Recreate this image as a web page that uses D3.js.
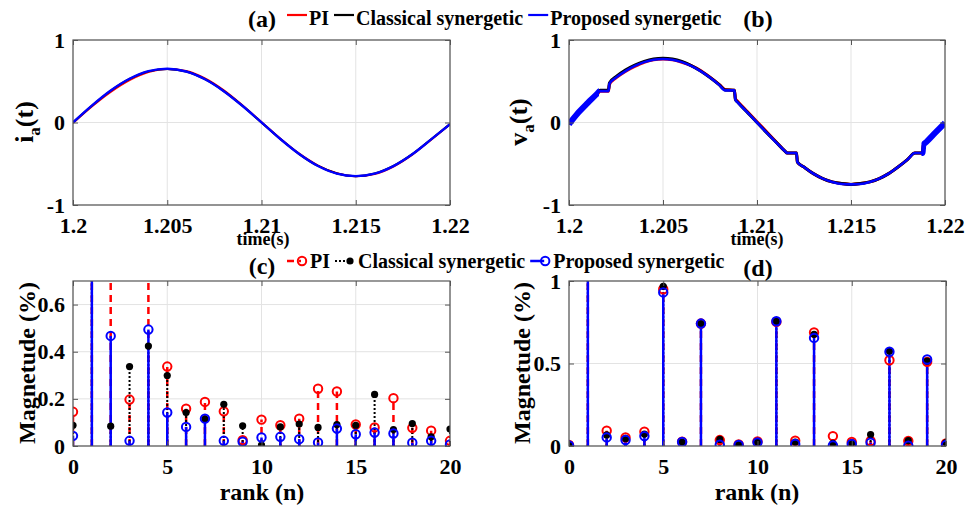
<!DOCTYPE html>
<html>
<head>
<meta charset="utf-8">
<script src="https://cdn.jsdelivr.net/npm/d3@7"></script>
<style>
  body { margin: 0; background: #fff; }
  text { font-family: "Liberation Serif", "Times New Roman", serif; font-weight: bold; fill: #000; }
</style>
</head>
<body>
<svg id="chart" width="978" height="509"></svg>
<script>
// ---------- data ----------
const seriesNames = ["PI", "Classical synergetic", "Proposed synergetic"];

const timeTicks = [1.2, 1.205, 1.21, 1.215, 1.22];
const signalTicks = [-1, 0, 1];

// (a) phase current i_a(t)
const iTime = [1.200, 1.201, 1.202, 1.203, 1.204, 1.205, 1.206, 1.207, 1.208, 1.209, 1.210,
               1.211, 1.212, 1.213, 1.214, 1.215, 1.216, 1.217, 1.218, 1.219, 1.220];
const iPI        = [-0.005, 0.195, 0.372, 0.515, 0.612, 0.650, 0.625, 0.535, 0.390, 0.206, 0.004,
                    -0.196, -0.378, -0.522, -0.616, -0.652, -0.626, -0.534, -0.390, -0.208, -0.020];
const iClassical = [0.000, 0.203, 0.385, 0.528, 0.620, 0.650, 0.619, 0.525, 0.381, 0.201, 0.000,
                    -0.201, -0.383, -0.527, -0.619, -0.650, -0.619, -0.527, -0.384, -0.203, -0.020];
const iProposed  = [0.000, 0.205, 0.388, 0.530, 0.622, 0.652, 0.618, 0.524, 0.380, 0.200, 0.002,
                    -0.200, -0.382, -0.528, -0.620, -0.650, -0.620, -0.528, -0.385, -0.205, -0.020];

// (b) phase voltage v_a(t), with the flat steps
const vTime = [1.2000, 1.2005, 1.2010, 1.2015, 1.20165, 1.2021, 1.20215, 1.2025, 1.2030, 1.2035,
               1.2040, 1.2045, 1.2050, 1.2055, 1.2060, 1.2065, 1.2070, 1.2075, 1.2080, 1.2083,
               1.2088, 1.20885, 1.2090, 1.2095, 1.2100, 1.2105, 1.2110, 1.2115, 1.2116, 1.2121,
               1.21215, 1.2125, 1.2130, 1.2135, 1.2140, 1.2145, 1.2150, 1.2155, 1.2160, 1.2165,
               1.2170, 1.2175, 1.2180, 1.2184, 1.2188, 1.21885, 1.2190, 1.2195, 1.2200];
const vPI        = [-0.02, 0.11, 0.23, 0.34, 0.38, 0.38, 0.46, 0.54, 0.62, 0.68,
                    0.73, 0.76, 0.77, 0.76, 0.73, 0.69, 0.63, 0.55, 0.46, 0.40,
                    0.39, 0.29, 0.25, 0.13, 0.01, -0.11, -0.23, -0.35, -0.37, -0.37,
                    -0.48, -0.54, -0.62, -0.68, -0.72, -0.74, -0.75, -0.74, -0.72, -0.68,
                    -0.62, -0.54, -0.45, -0.37, -0.37, -0.27, -0.24, -0.12, -0.01];
const vClassical = [-0.02, 0.12, 0.24, 0.35, 0.39, 0.39, 0.48, 0.555, 0.635, 0.695,
                    0.74, 0.77, 0.78, 0.77, 0.74, 0.69, 0.625, 0.545, 0.455, 0.395,
                    0.39, 0.28, 0.24, 0.12, 0.00, -0.12, -0.235, -0.35, -0.37, -0.37,
                    -0.48, -0.54, -0.62, -0.68, -0.72, -0.74, -0.75, -0.74, -0.72, -0.68,
                    -0.62, -0.54, -0.45, -0.37, -0.37, -0.27, -0.24, -0.12, -0.01];
const vProposed  = [-0.02, 0.12, 0.238, 0.35, 0.38, 0.38, 0.47, 0.545, 0.623, 0.686,
                    0.732, 0.761, 0.770, 0.761, 0.732, 0.686, 0.623, 0.545, 0.453, 0.390,
                    0.390, 0.280, 0.238, 0.120, 0.000, -0.120, -0.238, -0.350, -0.370, -0.370,
                    -0.480, -0.540, -0.620, -0.680, -0.720, -0.745, -0.750, -0.745, -0.720, -0.680,
                    -0.620, -0.540, -0.450, -0.370, -0.370, -0.270, -0.238, -0.120, -0.005];
// time spans where the proposed voltage trace shows a thick switching ripple
const vRippleSpans = [[1.2000, 1.2016], [1.2188, 1.2200]];

// (c) harmonic spectrum of the current, (d) of the voltage
const ranks = [0, 1, 2, 3, 4, 5, 6, 7, 8, 9, 10, 11, 12, 13, 14, 15, 16, 17, 18, 19, 20];
const curPI        = [0.145, 100, 0.90, 0.197, 1.10, 0.337, 0.158, 0.187, 0.147, 0.025, 0.112,
                      0.088, 0.116, 0.243, 0.231, 0.091, 0.079, 0.203, 0.077, 0.065, 0.022];
const curClassical = [0.088, 100, 0.084, 0.337, 0.424, 0.299, 0.142, 0.115, 0.177, 0.086, 0.004,
                      0.081, 0.093, 0.079, 0.091, 0.088, 0.219, 0.070, 0.095, 0.039, 0.072];
const curProposed  = [0.043, 100, 0.467, 0.022, 0.494, 0.142, 0.081, 0.116, 0.022, 0.018, 0.036,
                      0.039, 0.029, 0.015, 0.074, 0.050, 0.057, 0.053, 0.014, 0.022, 0.007];
const volPI        = [0.006, 100, 0.093, 0.052, 0.087, 0.950, 0.026, 0.742, 0.036, 0.010, 0.028,
                      0.752, 0.032, 0.688, 0.060, 0.024, 0.030, 0.520, 0.030, 0.510, 0.016];
const volClassical = [0.006, 100, 0.067, 0.046, 0.072, 0.968, 0.024, 0.742, 0.040, 0.010, 0.025,
                      0.755, 0.024, 0.677, 0.016, 0.020, 0.069, 0.575, 0.032, 0.514, 0.020];
const volProposed  = [0.004, 100, 0.052, 0.036, 0.060, 0.931, 0.024, 0.742, 0.008, 0.006, 0.022,
                      0.756, 0.012, 0.655, 0.004, 0.012, 0.020, 0.571, 0.002, 0.524, 0.006];
const rankTicks = [0, 5, 10, 15, 20];
const curMagTicks = [0, 0.2, 0.4, 0.6];
const volMagTicks = [0, 0.5, 1];

// ---------- styles ----------
const colors = ["#ff0000", "#000000", "#0000ff"];
const stemStyle = [
  { color: "#ff0000", dash: "7,5", width: 2.5, marker: "open" },
  { color: "#000000", dash: "2,2", width: 2, marker: "dot" },
  { color: "#0000ff", dash: null, width: 2.5, marker: "open" }
];

const svg = d3.select("#chart");

function makePanel(id, box, xDomain, yDomain, xTicks, yTicks) {
  const x = d3.scaleLinear().domain(xDomain).range([box.left, box.right]);
  const y = d3.scaleLinear().domain(yDomain).range([box.bottom, box.top]);
  const g = svg.append("g");

  svg.append("clipPath").attr("id", "clip-" + id)
    .append("rect")
    .attr("x", box.left).attr("y", box.top)
    .attr("width", box.right - box.left).attr("height", box.bottom - box.top);

  // grid
  g.selectAll(".gx").data(xTicks).join("line")
    .attr("x1", d => x(d)).attr("x2", d => x(d))
    .attr("y1", box.top).attr("y2", box.bottom)
    .attr("stroke", "#e3e3e3").attr("stroke-width", 1);
  g.selectAll(".gy").data(yTicks).join("line")
    .attr("y1", d => y(d)).attr("y2", d => y(d))
    .attr("x1", box.left).attr("x2", box.right)
    .attr("stroke", "#e3e3e3").attr("stroke-width", 1);

  const plot = svg.append("g").attr("clip-path", `url(#clip-${id})`);

  // axes on top of the data
  const axes = svg.append("g");
  axes.append("g")
    .attr("transform", `translate(0,${box.bottom})`)
    .call(d3.axisBottom(x).tickValues(xTicks).tickSizeInner(-5).tickSizeOuter(0).tickPadding(12).tickFormat(d => String(d)));
  axes.append("g")
    .attr("transform", `translate(${box.left},0)`)
    .call(d3.axisLeft(y).tickValues(yTicks).tickSizeInner(-5).tickSizeOuter(0).tickPadding(8).tickFormat(d => String(d)));
  axes.append("g")
    .attr("transform", `translate(0,${box.top})`)
    .call(d3.axisTop(x).tickValues(xTicks).tickSizeInner(-5).tickSizeOuter(0).tickFormat(""));
  axes.append("g")
    .attr("transform", `translate(${box.right},0)`)
    .call(d3.axisRight(y).tickValues(yTicks).tickSizeInner(-5).tickSizeOuter(0).tickFormat(""));
  axes.selectAll(".domain").remove();
  axes.selectAll(".tick line").attr("stroke", "#555");
  axes.selectAll(".tick text")
    .attr("font-family", '"Liberation Serif", "Times New Roman", serif')
    .attr("font-weight", "bold").attr("font-size", 22).attr("fill", "#000");
  axes.append("rect")
    .attr("x", box.left).attr("y", box.top)
    .attr("width", box.right - box.left).attr("height", box.bottom - box.top)
    .attr("fill", "none").attr("stroke", "#555").attr("stroke-width", 1.2);

  return { x, y, plot, box };
}

function rotatedLabel(cx, cy, parts) {
  const t = svg.append("text")
    .attr("transform", `translate(${cx},${cy}) rotate(-90)`)
    .attr("text-anchor", "middle");
  parts.forEach(p => {
    t.append("tspan").text(p.text)
      .attr("font-size", p.size)
      .attr("dy", p.dy || 0);
  });
  return t;
}

// ---------- (a) and (b): time waveforms ----------
const panelA = makePanel("a", { left: 73, right: 450, top: 40, bottom: 205 }, [1.2, 1.22], [-1, 1], timeTicks, signalTicks);
const panelB = makePanel("b", { left: 569, right: 945, top: 40, bottom: 205 }, [1.2, 1.22], [-1, 1], timeTicks, signalTicks);

function drawWave(panel, times, seriesList, widths) {
  const line = d3.line()
    .x((d, i) => panel.x(times[i]))
    .y(d => panel.y(d))
    .curve(d3.curveMonotoneX);
  seriesList.forEach((vals, k) => {
    panel.plot.append("path")
      .attr("d", line(vals))
      .attr("fill", "none")
      .attr("stroke", colors[k])
      .attr("stroke-width", widths[k])
      .attr("stroke-linejoin", "round");
  });
  return line;
}

drawWave(panelA, iTime, [iPI, iClassical, iProposed], [2, 2, 2.4]);
const vLine = drawWave(panelB, vTime, [vPI, vClassical, vProposed], [3, 3, 2.6]);

// thick ripple band of the proposed voltage near the zero crossings
vRippleSpans.forEach((span, k) => {
  const cid = "ripple-" + k;
  svg.append("clipPath").attr("id", cid).append("rect")
    .attr("x", panelB.x(span[0]) - 1).attr("y", panelB.box.top)
    .attr("width", panelB.x(span[1]) - panelB.x(span[0]) + 1)
    .attr("height", panelB.box.bottom - panelB.box.top);
  panelB.plot.append("path")
    .attr("clip-path", `url(#${cid})`)
    .attr("d", vLine(vProposed))
    .attr("fill", "none").attr("stroke", "#0000ff").attr("stroke-width", 6);
});

// axis titles for the waveforms
rotatedLabel(33, 122, [{ text: "i", size: 26 }, { text: "a", size: 17, dy: 7 }, { text: "(t)", size: 26, dy: -7 }]);
rotatedLabel(527, 122, [{ text: "v", size: 26 }, { text: "a", size: 17, dy: 7 }, { text: "(t)", size: 26, dy: -7 }]);
svg.append("text").attr("x", 263).attr("y", 245).attr("text-anchor", "middle").attr("font-size", 18).text("time(s)");
svg.append("text").attr("x", 757).attr("y", 245).attr("text-anchor", "middle").attr("font-size", 18).text("time(s)");

// ---------- (c) and (d): harmonic stems ----------
const panelC = makePanel("c", { left: 73, right: 450, top: 281, bottom: 446 }, [0, 20], [0, 0.7], rankTicks, curMagTicks);
const panelD = makePanel("d", { left: 569, right: 946, top: 281, bottom: 446 }, [0, 20], [0, 1], rankTicks, volMagTicks);

function drawMarker(sel, style, cx, cy) {
  if (style.marker === "open") {
    sel.append("circle").attr("cx", cx).attr("cy", cy).attr("r", 4.2)
      .attr("fill", "none").attr("stroke", style.color).attr("stroke-width", 2);
  } else {
    sel.append("circle").attr("cx", cx).attr("cy", cy).attr("r", 3.6)
      .attr("fill", style.color);
  }
}

function drawStems(panel, seriesList) {
  seriesList.forEach((vals, k) => {
    const s = stemStyle[k];
    panel.plot.append("g").selectAll("line").data(vals).join("line")
      .attr("x1", (d, i) => panel.x(ranks[i])).attr("x2", (d, i) => panel.x(ranks[i]))
      .attr("y1", panel.y(0)).attr("y2", d => panel.y(d))
      .attr("stroke", s.color).attr("stroke-width", s.width)
      .attr("stroke-dasharray", s.dash);
  });
  seriesList.forEach((vals, k) => {
    const g = panel.plot.append("g");
    vals.forEach((d, i) => drawMarker(g, stemStyle[k], panel.x(ranks[i]), panel.y(d)));
  });
}

drawStems(panelC, [curPI, curClassical, curProposed]);
drawStems(panelD, [volPI, volClassical, volProposed]);

rotatedLabel(35, 363, [{ text: "Magnetude (%)", size: 24 }]);
rotatedLabel(530, 363, [{ text: "Magnetude (%)", size: 24 }]);
svg.append("text").attr("x", 262).attr("y", 500).attr("text-anchor", "middle").attr("font-size", 24).text("rank (n)");
svg.append("text").attr("x", 757).attr("y", 500).attr("text-anchor", "middle").attr("font-size", 24).text("rank (n)");

// ---------- panel letters ----------
[["(a)", 262, 27], ["(b)", 758, 27], ["(c)", 262, 274], ["(d)", 758, 276]].forEach(([t, x, y]) => {
  svg.append("text").attr("x", x).attr("y", y).attr("text-anchor", "middle").attr("font-size", 24).text(t);
});

// ---------- legends ----------
function legend(startX, lineY, textY, stemStyleLegend) {
  let cx = startX;
  seriesNames.forEach((name, k) => {
    const g = svg.append("g");
    if (stemStyleLegend) {
      const s = stemStyle[k];
      g.append("line").attr("x1", cx).attr("x2", cx + 14).attr("y1", lineY).attr("y2", lineY)
        .attr("stroke", s.color).attr("stroke-width", s.width).attr("stroke-dasharray", s.dash);
      drawMarker(g, s, cx + 15, lineY);
      cx += 23;
    } else {
      g.append("line").attr("x1", cx).attr("x2", cx + 20).attr("y1", lineY).attr("y2", lineY)
        .attr("stroke", colors[k]).attr("stroke-width", 2.2);
      cx += 22;
    }
    const t = g.append("text").attr("x", cx).attr("y", textY).attr("font-size", 20).text(name);
    cx += t.node().getComputedTextLength() + 5;
  });
}
legend(287, 15, 25, false);
legend(287, 261, 268, true);
</script>
</body>
</html>
